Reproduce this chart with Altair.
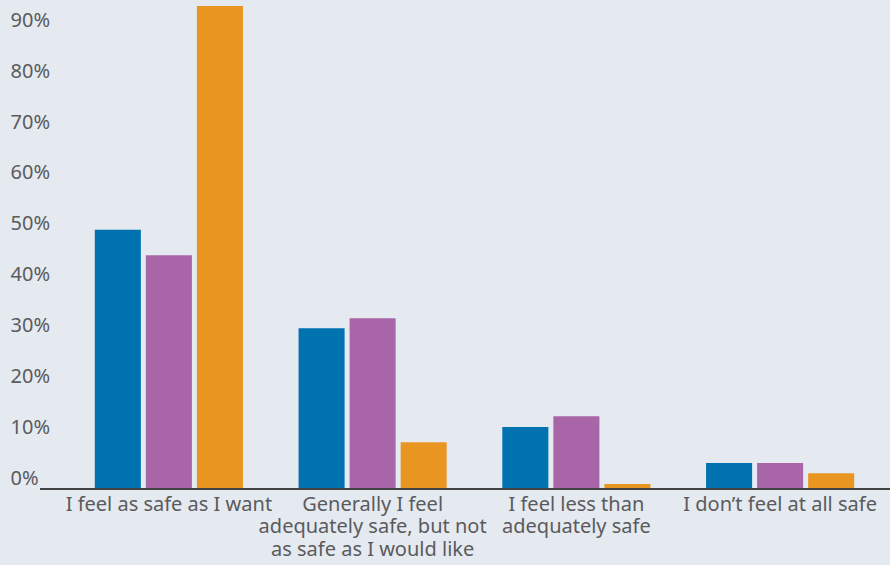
import altair as alt
import pandas as pd

categories = [
    "I feel as safe as I want",
    "Generally I feel|adequately safe, but not|as safe as I would like",
    "I feel less than|adequately safe",
    "I don\u2019t feel at all safe",
]
series = ["Group 1", "Group 2", "Group 3"]
values_g1 = [51, 31.6, 12.2, 5.1]
values_g2 = [46, 33.6, 14.3, 5.1]
values_g3 = [95, 9.2, 1.0, 3.1]
colors = ["#0072b0", "#a866a9", "#e99522"]
y_ticks = [0, 10, 20, 30, 40, 50, 60, 70, 80, 90]

rows = []
for s, vals in zip(series, [values_g1, values_g2, values_g3]):
    for c, v in zip(categories, vals):
        rows.append({"category": c, "series": s, "value": v})
df = pd.DataFrame(rows)

FONT = "Noto Sans"
TEXT = "#5a5b5d"
W, H = 815, 483

bars = alt.Chart(df).mark_bar().encode(
    x=alt.X("category:N", sort=categories,
            scale=alt.Scale(paddingInner=0.273, paddingOuter=0.1365),
            axis=alt.Axis(title=None, domain=False, ticks=False, labelAngle=0,
                          labelExpr="split(datum.label, '|')",
                          labelFont=FONT, labelFontSize=20, labelColor=TEXT,
                          labelPadding=5, labelLineHeight=22.5, labelLimit=400)),
    xOffset=alt.XOffset("series:N", sort=series,
                        scale=alt.Scale(paddingInner=0.098, paddingOuter=0)),
    y=alt.Y("value:Q", scale=alt.Scale(domain=[0, 95], nice=False),
            axis=alt.Axis(title=None, domain=False, ticks=False, grid=False,
                          values=y_ticks, labelExpr="datum.value + '%'",
                          labelAlign="left", labelPadding=57, labelOffset=-11,
                          labelFont=FONT, labelFontSize=20, labelColor=TEXT)),
    color=alt.Color("series:N", sort=series,
                    scale=alt.Scale(domain=series, range=colors), legend=None),
)

base_line = alt.Chart(df).mark_rule(color="#444444", strokeWidth=1.5).encode(
    x=alt.value(-27), x2=alt.value(W + 8), y=alt.value(H)
)

chart = alt.layer(bars, base_line).properties(
    width=W, height=H,
    background="#e5e9f0",
    autosize=alt.AutoSizeParams(type="none"),
    padding={"left": 67, "top": 6, "right": 8, "bottom": 76},
).configure_view(stroke=None)

chart.save("out.html", embed_options={"renderer": "svg", "actions": False})
